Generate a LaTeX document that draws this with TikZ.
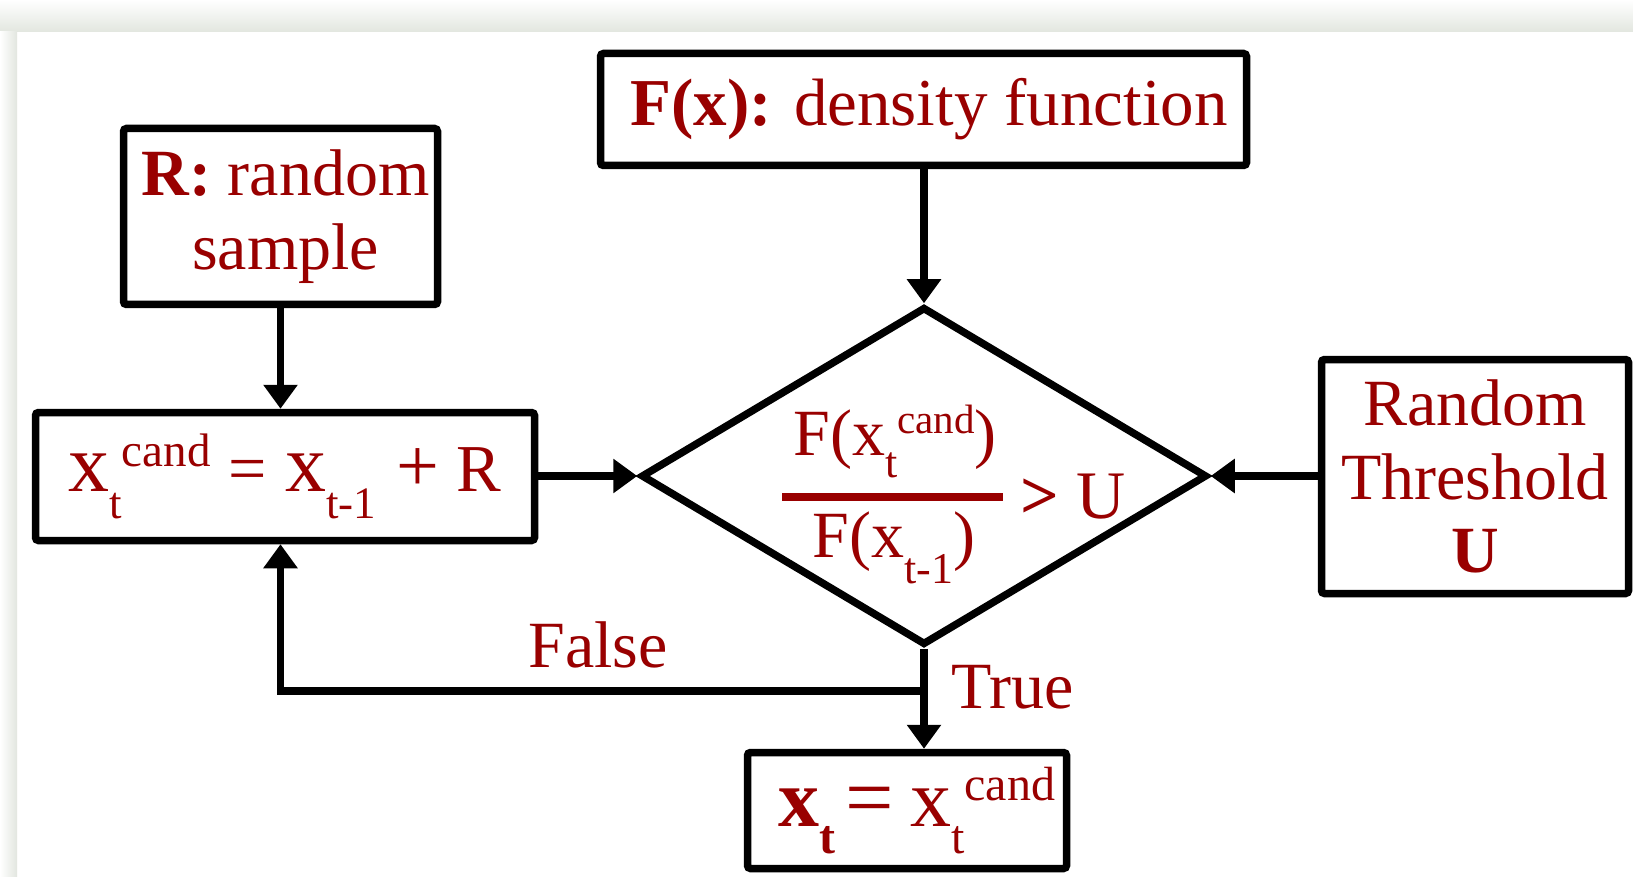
\documentclass[tikz,border=0pt]{standalone}
\usepackage{fontspec}
\setmainfont{Liberation Serif}
\usetikzlibrary{shapes.geometric,arrows.meta}
\definecolor{dred}{HTML}{990000}
\definecolor{shd}{HTML}{E2E6DF}
\newcommand\myfs[1]{\fontsize{#1}{#1}\selectfont}
\begin{document}
\begin{tikzpicture}[x=0.5pt,y=-0.5pt,
 box/.style={draw=black, line width=3.75pt, rounded corners=1.5pt, fill=white, inner sep=0pt, text=dred, align=center},
 arr/.style={line width=3.75pt, -{Triangle[width=16.5pt,length=12pt]}},
 lab/.style={text=dred, inner sep=0pt}]
\useasboundingbox (0,0) rectangle (1633,877);
\fill[white] (0,0) rectangle (1633,877);
\shade[top color=white, bottom color=shd] (0,0) rectangle (1633,32);
\shade[left color=white, right color=shd] (0,32) rectangle (17,877);

% boxes
\node[box, minimum width=323pt, minimum height=56pt, font={\myfs{33.5}}] (F) at (923.5,109.5)
  {\hspace*{5.5pt}\textbf{F(x):} density function};
\node[box, minimum width=157pt, minimum height=88pt, font={\fontsize{33pt}{37pt}\selectfont}] (R) at (280.5,216.5)
  {\hspace*{5pt}\textbf{R:} random\\\hspace*{5pt}sample};
\node[box, minimum width=249.5pt, minimum height=64pt] (xc) at (285,476.5)
  {{\myfs{41}x}\raisebox{-13.5pt}{\myfs{22.5}t}\raisebox{12.5pt}{\myfs{23.5}cand}\hspace{9pt}{\myfs{34}=}\hspace{9pt}{\myfs{41}x}\raisebox{-13.5pt}{\myfs{22.5}t-1}\hspace{10pt}{\myfs{38}+}\hspace{9pt}{\myfs{33.5}R}};
\node[diamond, draw=black, line width=3.75pt, fill=white, inner sep=0pt, minimum width=283pt, minimum height=169pt] (d) at (924,476) {};
\node[box, minimum width=153.5pt, minimum height=117pt, font={\fontsize{33pt}{36.75pt}\selectfont}] (RT) at (1475,476.5)
  {Random\\Threshold\\\textbf{U}};
\node[box, minimum width=159.5pt, minimum height=58pt] (bot) at (907,810.5)
  {\hspace*{10pt}{\bfseries\myfs{41}x}\raisebox{-13.5pt}{\bfseries\myfs{24}t}\hspace{5pt}{\myfs{43}=}\hspace{8pt}{\myfs{41}x}\raisebox{-13.5pt}{\myfs{24}t}\raisebox{13pt}{\myfs{24}cand}};

% diamond text
\node[lab, anchor=base] (num) at (895,455)
  {{\myfs{33}F(x}\raisebox{-11pt}{\myfs{22}t}\raisebox{11pt}{\myfs{20.5}cand}{\myfs{33})}};
\node[lab, anchor=center] (bar) at (892.5,497) {\rule{110.5pt}{4pt}};
\node[lab, anchor=base] (den) at (894,557)
  {{\myfs{33}F(x}\raisebox{-13pt}{\myfs{22}t-1}{\myfs{33})}};
\node[lab, anchor=base west] (gtu) at (1020,518) {\myfs{34}\textbf{>} U};

% connectors
\draw[arr] (F.south -| d.north) -- (d.north);
\draw[arr] (R.south) -- (R.south |- xc.north);
\draw[arr] (xc.east |- d.west) -- (d.west);
\draw[arr] (RT.west |- d.east) -- (d.east);
\draw[arr] (d.south) -- (d.south |- bot.north);
\path (d.south) ++(0,42) coordinate (lp);
\draw[arr] (lp) -| (R.south |- xc.south);

% labels
\node[lab, anchor=base] (false) at (598,667) {\myfs{33}False};
\node[lab, anchor=base west] (true) at (951,708) {\myfs{33}True};
\end{tikzpicture}
\end{document}
